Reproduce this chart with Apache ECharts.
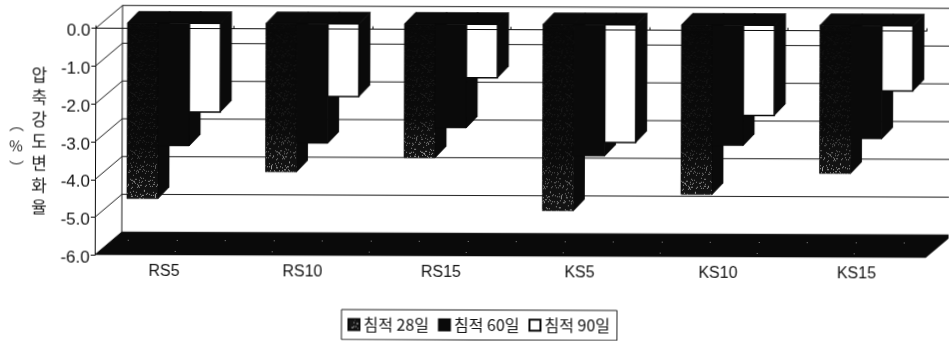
<!DOCTYPE html>
<html>
<head>
<meta charset="utf-8">
<style>
  html, body { margin: 0; padding: 0; background: #fff; overflow: hidden; }
  /* the whole figure sits very slightly clockwise on the page */
  #chart { width: 949px; height: 341px; transform: rotate(0.2deg); transform-origin: 50% 50%; }
</style>
<script src="https://cdn.jsdelivr.net/npm/echarts@6/dist/echarts.min.js"></script>
</head>
<body>
<div id="chart"></div>
<script>
const categories = ['RS5', 'RS10', 'RS15', 'KS5', 'KS10', 'KS15'];
const days28 = [-4.65, -3.93, -3.54, -4.93, -4.49, -3.92];
const days60 = [-3.25, -3.17, -2.75, -3.48, -3.19, -3.00];
const days90 = [-2.35, -1.93, -1.42, -3.12, -2.39, -1.73];
const seriesNames = ['침적 28일', '침적 60일', '침적 90일'];
const valueTicks = [0, -1, -2, -3, -4, -5, -6];

const INK = '#0a0a0a';
const WALL_DX = 27, WALL_DY = -23;      // depth of the box
const BAR_DX = 11, BAR_DY = -11.5;      // depth of one column
const BAR_SHIFT_X = 9.25, BAR_SHIFT_Y = -5.5; // columns stand a little inside the box
const BAR_FRACTION = 0.224;             // column width relative to a category

// Small repeating speckle tiles for the grainy fills
function speckleTile(size, dots, bg, fg) {
  const c = document.createElement('canvas');
  c.width = c.height = size;
  const g = c.getContext('2d');
  g.fillStyle = bg;
  g.fillRect(0, 0, size, size);
  g.fillStyle = fg;
  for (let i = 0; i < dots; i++) {
    g.fillRect((i * 37 + (i * i) % 11) % size, (i * 23 + (i * i * 3) % 17) % size, 1, 1);
  }
  return c;
}
const grainFill = { image: speckleTile(29, 95, '#161616', '#c4c4c4'), repeat: 'repeat' };
const floorFill = { image: speckleTile(97, 14, INK, '#8a8a8a'), repeat: 'repeat' };

function columnRenderer(slot, fill) {
  return function (params, api) {
    const idx = api.value(0);
    const zero = api.coord([idx, 0]);
    const end = api.coord([idx, api.value(1)]);
    const w = api.size([1, 0])[0] * BAR_FRACTION;
    const x0 = zero[0] + BAR_SHIFT_X + (slot - 1.5) * w;
    const x1 = x0 + w;
    const yT = zero[1] + BAR_SHIFT_Y;
    const yB = end[1] + BAR_SHIFT_Y;
    const solid = { fill: INK, stroke: INK, lineWidth: 0.8 };
    const children = [
      { type: 'polygon', shape: { points: [[x0, yT], [x0 + BAR_DX, yT + BAR_DY], [x1 + BAR_DX, yT + BAR_DY], [x1, yT]] },
        style: solid },
      { type: 'polygon', shape: { points: [[x1, yT], [x1 + BAR_DX, yT + BAR_DY], [x1 + BAR_DX, yB + BAR_DY], [x1, yB]] },
        style: solid },
      { type: 'rect', shape: { x: x0, y: yT, width: w, height: yB - yT },
        style: { fill: fill, stroke: INK, lineWidth: slot === 2 ? 1.5 : 0.5 } }
    ];
    if (slot === 0) {
      // grain fades out towards the top of the column
      children.push({ type: 'rect', shape: { x: x0, y: yT, width: w, height: yB - yT },
        style: { fill: new echarts.graphic.LinearGradient(0, 0, 0, 1, [
          { offset: 0, color: 'rgba(8,8,8,0.97)' },
          { offset: 0.7, color: 'rgba(8,8,8,0.85)' },
          { offset: 1, color: 'rgba(8,8,8,0.15)' }
        ]) } });
    }
    return { type: 'group', children: children };
  };
}

// Back wall rules, the diagonals joining them to the axis, and the floor
function boxRenderer(params, api) {
  const sys = params.coordSys;
  const y = api.coord([0, api.value(0)])[1];
  const left = sys.x, right = sys.x + sys.width;
  const line = (a, b, width) => ({ type: 'line', shape: { x1: a[0], y1: a[1], x2: b[0], y2: b[1] },
    style: { stroke: '#1c1c1c', lineWidth: width } });
  const children = [
    line([left, y], [left + WALL_DX, y + WALL_DY], 1),
    line([left + WALL_DX, y + WALL_DY], [right + WALL_DX, y + WALL_DY], 1)
  ];
  if (api.value(0) === valueTicks[0]) {
    children.push(line([left + WALL_DX, y + WALL_DY], [left + WALL_DX, sys.y + sys.height + WALL_DY], 1));
  }
  if (api.value(0) === valueTicks[valueTicks.length - 1]) {
    children.push({ type: 'polygon',
      shape: { points: [[left, y], [left + WALL_DX, y + WALL_DY], [right + WALL_DX, y + WALL_DY], [right, y]] },
      style: { fill: floorFill } });
  }
  return { type: 'group', children: children };
}

function columnSeries(name, values, slot, fill, legendColor) {
  return {
    name: name, type: 'custom', xAxisIndex: 0, yAxisIndex: 0, z: 3, clip: false,
    itemStyle: { color: legendColor, borderColor: INK, borderWidth: 1 },
    encode: { x: 0, y: 1 },
    data: values.map((v, i) => [i, v]),
    renderItem: columnRenderer(slot, fill)
  };
}

const chart = echarts.init(document.getElementById('chart'));
chart.setOption({
  animation: false,
  backgroundColor: '#fff',
  grid: { left: 95, right: 23, top: 29.7, bottom: 84.7 },
  xAxis: [
    { type: 'category', position: 'top', data: categories, z: 10,
      axisLine: { lineStyle: { color: INK, width: 1 } },
      axisTick: { show: true, length: 3, lineStyle: { color: INK } },
      axisLabel: { show: false }, splitLine: { show: false } },
    { type: 'category', position: 'bottom', data: categories,
      axisLine: { show: false }, axisTick: { show: false }, splitLine: { show: false },
      axisLabel: { margin: 8, fontFamily: 'Liberation Sans', fontSize: 16, color: '#111' } }
  ],
  yAxis: {
    type: 'value', min: -6, max: 0, interval: 1,
    name: '압\n축\n강\n도\n변\n화\n율',
    nameLocation: 'middle', nameRotate: 0, nameGap: 48,
    nameTextStyle: { fontFamily: 'Noto Sans CJK KR', fontSize: 17, lineHeight: 22, color: '#222' },
    axisLine: { show: true, lineStyle: { color: INK } },
    axisTick: { show: true, length: 4, lineStyle: { color: INK } },
    splitLine: { show: false },
    axisLabel: { margin: 5, fontFamily: 'Liberation Sans', fontSize: 17, color: '#111',
      verticalAlign: 'top', lineHeight: 6, formatter: v => v.toFixed(1) }
  },
  legend: {
    left: 342, top: 310, orient: 'horizontal', icon: 'rect',
    data: [
      { name: seriesNames[0], itemStyle: { color: grainFill } },
      { name: seriesNames[1] },
      { name: seriesNames[2] }
    ],
    itemWidth: 11, itemHeight: 11, itemGap: 9,
    padding: [7, 7, 7, 6],
    borderColor: '#222', borderWidth: 1,
    selectedMode: false,
    textStyle: { fontFamily: 'Noto Sans CJK KR', fontSize: 16, color: '#111', padding: [0, 0, 0, -1] }
  },
  graphic: [
    { type: 'text', left: 9, top: 114, z: 5,
      style: { text: '︵\n%\n︶', fontFamily: 'Noto Sans CJK KR', fontSize: 15, lineHeight: 22,
        fill: '#222', align: 'center' } }
  ],
  series: [
    { type: 'custom', name: 'box', z: 1, clip: false, silent: true, xAxisIndex: 0, yAxisIndex: 0,
      encode: { y: 0 }, data: valueTicks.map(v => [v]), renderItem: boxRenderer },
    columnSeries(seriesNames[0], days28, 0, grainFill, '#333'),
    columnSeries(seriesNames[1], days60, 1, INK, INK),
    columnSeries(seriesNames[2], days90, 2, '#fff', '#fff')
  ]
});
</script>
</body>
</html>
